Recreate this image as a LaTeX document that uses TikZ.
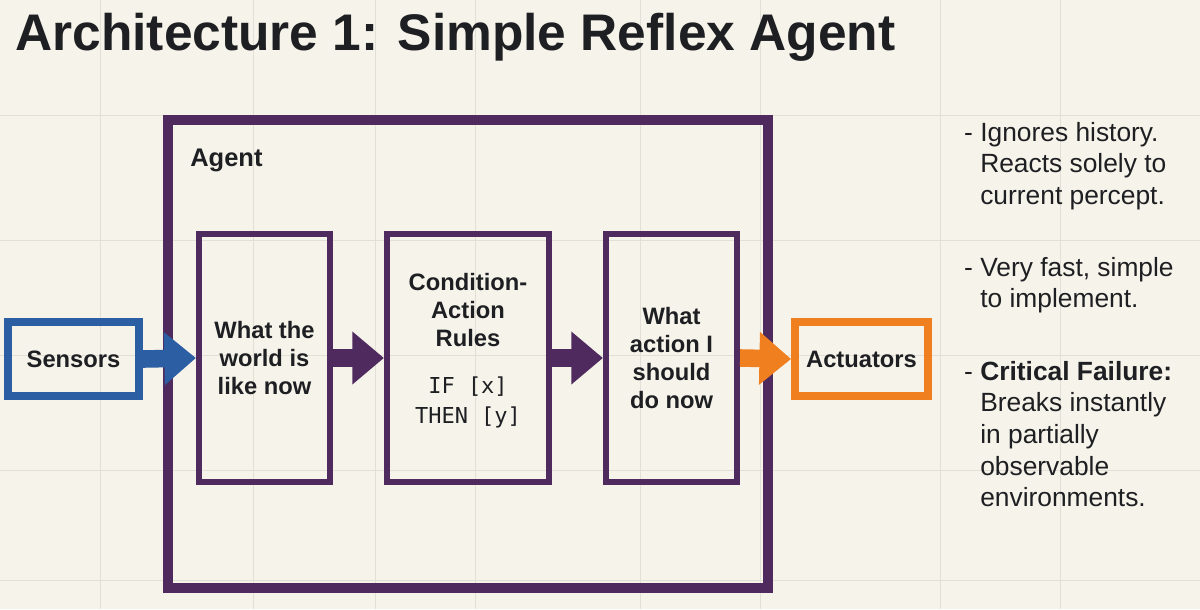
\documentclass[tikz,border=0pt]{standalone}
\usepackage{fontspec}
\setmainfont{Liberation Sans}
\setmonofont{DejaVu Sans Mono}
\usetikzlibrary{arrows.meta}
\definecolor{bg}{HTML}{F6F3EA}
\definecolor{grid}{HTML}{E2DFD6}
\definecolor{pur}{HTML}{4F2A5E}
\definecolor{blu}{HTML}{2C5EA3}
\definecolor{org}{HTML}{F07F1F}
\definecolor{ink}{HTML}{1E1F22}
\begin{document}
\begin{tikzpicture}[x=0.02cm,y=-0.02cm,
  inner/.style={draw=pur,line width=3.5pt,minimum width=2.62cm,minimum height=4.96cm,align=center,font=\fontsize{13.5}{16}\selectfont\bfseries,text=ink,inner sep=0pt},
  side/.style={line width=4.5pt,minimum width=2.62cm,minimum height=1.48cm,font=\fontsize{13.5}{16}\selectfont\bfseries,text=ink},
  barrow/.style={line width=10pt,-{Triangle[length=18pt,width=29pt]}},
  note/.style={anchor=north west,align=left,font=\fontsize{15}{18}\selectfont,text=ink}]
\fill[bg] (0,0) rectangle (1200,609);
\useasboundingbox (0,0) rectangle (1200,609);
\foreach \x in {100,253,375,475,640,760,940,1060} \draw[grid,line width=0.5pt] (\x,0) -- (\x,609);
\foreach \y in {115,240,355,470,580} \draw[grid,line width=0.5pt] (0,\y) -- (1200,\y);
\node[anchor=base west,text=ink,inner sep=0pt,font=\fontsize{29.3}{36}\selectfont\bfseries] (title) at (15,50) {Architecture 1: Simple Reflex Agent};
\node[draw=pur,line width=5.5pt,minimum width=12cm,minimum height=9.36cm,inner sep=0pt] (agent) at (468,354) {};
\node[anchor=base west,inner sep=0pt,text=ink,font=\fontsize{14.5}{17}\selectfont\bfseries] (alab) at (190,166) {Agent};
\node[inner] (b1) at (264.5,358) {What the\\world is\\like now};
\node[inner,minimum width=3.24cm] (b2) at (468,358) {};
\node[align=center,inner sep=0pt,text=ink,font=\fontsize{13.5}{16}\selectfont\bfseries] (b2t) at (468,310) {Condition-\\Action\\Rules};
\node[align=center,inner sep=0pt,text=ink,font=\fontsize{12.5}{17}\selectfont\ttfamily] (b2c) at (468,402) {IF [x]\\THEN [y]};
\node[inner] (b3) at (671.5,358) {What\\action I\\should\\do now};
\node[side,draw=blu] (sen) at (73.5,359) {Sensors};
\node[side,draw=org,minimum width=2.66cm] (act) at (861.5,359) {Actuators};
\draw[barrow,blu] (sen.east) -- (b1.west);
\draw[barrow,pur] (b1.east) -- (b2.west);
\draw[barrow,pur] (b2.east) -- (b3.west);
\draw[barrow,org] (b3.east) -- (act.west);
\node[note] (n1) at (958,116) {- Ignores history.\\\phantom{- }Reacts solely to\\\phantom{- }current percept.};
\node[note] (n2) at (958,251) {- Very fast, simple\\\phantom{- }to implement.};
\node[note] (n3) at (958,355) {- \textbf{Critical Failure:}\\\phantom{- }Breaks instantly\\\phantom{- }in partially\\\phantom{- }observable\\\phantom{- }environments.};
\end{tikzpicture}
\end{document}
